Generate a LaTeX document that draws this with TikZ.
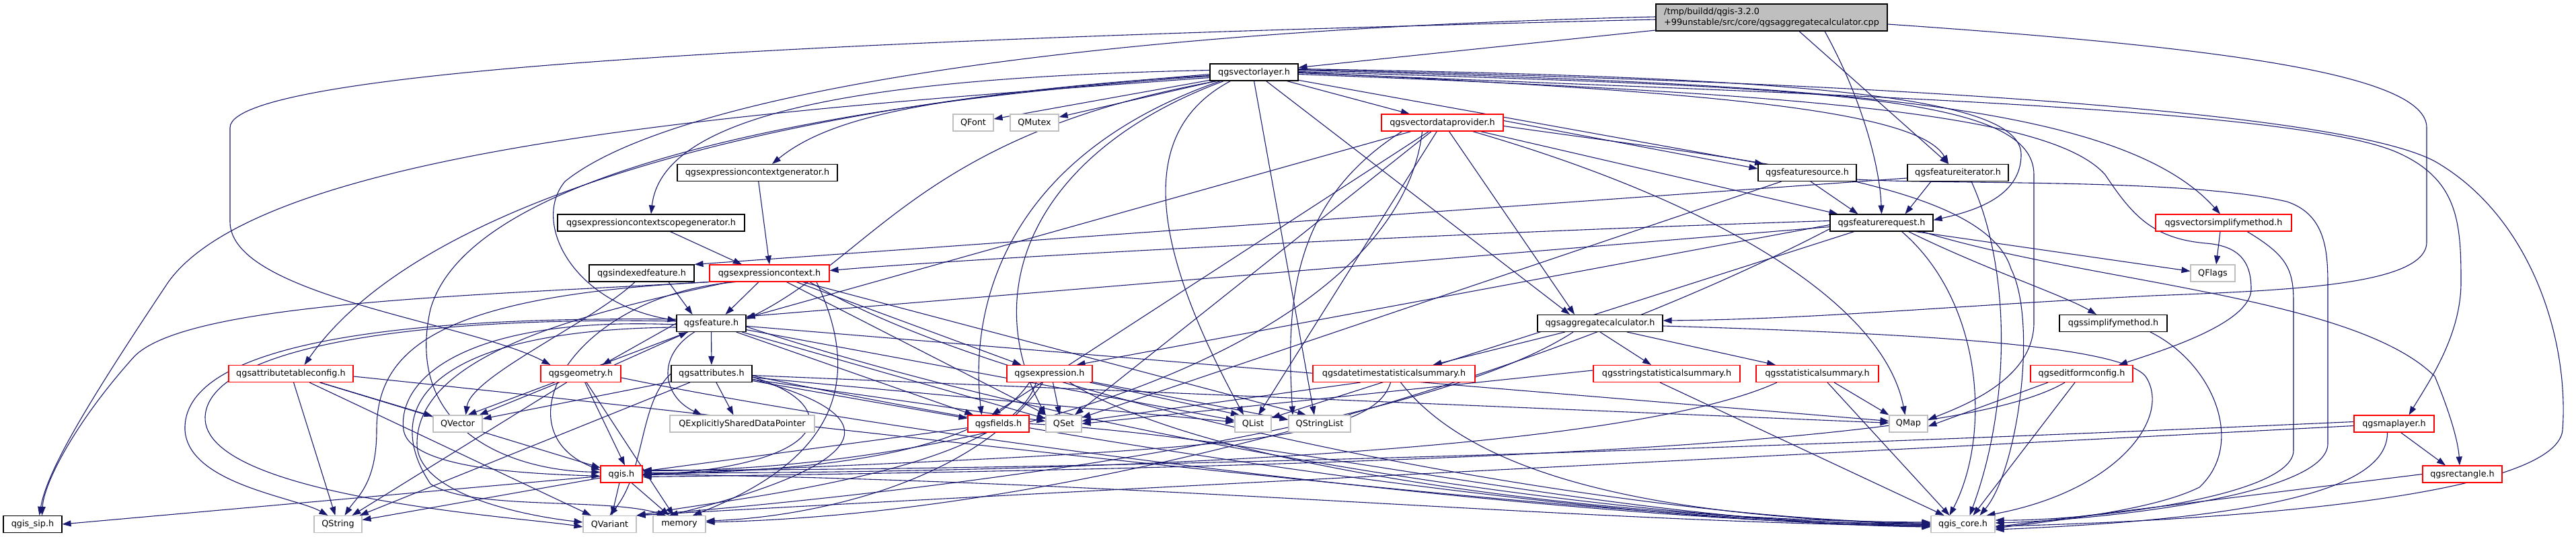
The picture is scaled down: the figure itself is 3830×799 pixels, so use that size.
\documentclass[tikz,border=0pt]{standalone}
\usepackage{fontspec}
\setmainfont{DejaVu Sans}
\usetikzlibrary{arrows.meta}
\definecolor{edgec}{HTML}{191970}
\definecolor{graybd}{HTML}{BFBFBF}
\definecolor{redbd}{HTML}{FF0000}
\pgfdeclarelayer{bg}
\pgfsetlayers{bg,main}
\begin{document}
\begin{tikzpicture}[x=1pt,y=-1pt,
  box/.style={font=\fontsize{12.8}{16}\selectfont, inner sep=0pt, minimum height=25pt, fill=white, line width=1.1pt},
  nb/.style={box, draw=black},
  nr/.style={box, draw=redbd},
  ng/.style={box, draw=graybd},
  e/.style={draw=edgec, line width=1.1pt, -{Triangle[length=13pt,width=9pt]}},
]
\useasboundingbox (0,0) rectangle (3830,799);

\node[nb, fill=graybd, minimum width=344pt, minimum height=40pt, align=left] (R) at (2634,26) {/tmp/buildd/qgis-3.2.0\\+99unstable/src/core/qgsaggregatecalculator.cpp};
\node[nb, minimum width=131pt] (VL) at (1864.5,107.5) {qgsvectorlayer.h};
\node[ng, minimum width=60pt] (QF) at (1447,182.5) {QFont};
\node[ng, minimum width=72pt] (QM) at (1538,182.5) {QMutex};
\node[nr, minimum width=181pt] (VDP) at (2144.5,182.5) {qgsvectordataprovider.h};
\node[nb, minimum width=238pt] (ECG) at (1126,257) {qgsexpressioncontextgenerator.h};
\node[nb, minimum width=146pt] (FS) at (2687,257) {qgsfeaturesource.h};
\node[nb, minimum width=150pt] (FI) at (2911,257) {qgsfeatureiterator.h};
\node[nb, minimum width=278pt] (ECSG) at (968,331.5) {qgsexpressioncontextscopegenerator.h};
\node[nb, minimum width=153pt] (FR) at (2797.5,331.5) {qgsfeaturerequest.h};
\node[nr, minimum width=202pt] (VSM) at (3306,331.5) {qgsvectorsimplifymethod.h};
\node[nb, minimum width=156pt] (IF) at (954,406.5) {qgsindexedfeature.h};
\node[nr, minimum width=178pt] (EC) at (1144,406.5) {qgsexpressioncontext.h};
\node[ng, minimum width=66pt] (QFl) at (3290,406.5) {QFlags};
\node[nb, minimum width=103pt] (FE) at (1057.5,481) {qgsfeature.h};
\node[nb, minimum width=186pt] (AGH) at (2379,481) {qgsaggregatecalculator.h};
\node[nb, minimum width=160pt] (SM) at (3142,481) {qgssimplifymethod.h};
\node[nr, minimum width=185pt] (ATC) at (432.5,556) {qgsattributetableconfig.h};
\node[nr, minimum width=119pt] (GEO) at (863.5,556) {qgsgeometry.h};
\node[nb, minimum width=120pt] (ATT) at (1058,556) {qgsattributes.h};
\node[nr, minimum width=127pt] (EXP) at (1560.5,556) {qgsexpression.h};
\node[nr, minimum width=241pt] (DTS) at (2072.5,556) {qgsdatetimestatisticalsummary.h};
\node[nr, minimum width=218pt] (SSS) at (2478,556) {qgsstringstatisticalsummary.h};
\node[nr, minimum width=182pt] (STS) at (2702,556) {qgsstatisticalsummary.h};
\node[nr, minimum width=152pt] (EFC) at (3095,556) {qgseditformconfig.h};
\node[ng, minimum width=73pt] (QVe) at (680.5,630.5) {QVector};
\node[ng, minimum width=215pt] (QESDP) at (1103.5,630.5) {QExplicitlySharedDataPointer};
\node[nr, minimum width=91pt] (FLD) at (1484.5,630.5) {qgsfields.h};
\node[ng, minimum width=53pt] (QSe) at (1581.5,630.5) {QSet};
\node[ng, minimum width=54pt] (QLi) at (1863,630.5) {QList};
\node[ng, minimum width=92pt] (QSL) at (1962,630.5) {QStringList};
\node[ng, minimum width=57pt] (QMa) at (2837.5,630.5) {QMap};
\node[nr, minimum width=119pt] (ML) at (3559.5,630.5) {qgsmaplayer.h};
\node[nr, minimum width=62pt] (QG) at (924,705.5) {qgis.h};
\node[nr, minimum width=118pt] (RECT) at (3661,705.5) {qgsrectangle.h};
\node[nb, minimum width=87pt] (SIP) at (48.5,780) {qgis\_sip.h};
\node[ng, minimum width=71pt] (QSt) at (502.5,780) {QString};
\node[ng, minimum width=79pt] (QVa) at (906.5,780) {QVariant};
\node[ng, minimum width=78pt] (MEM) at (1010,780) {memory};
\node[ng, minimum width=95pt] (CORE) at (2918.5,780) {qgis\_core.h};

\begin{pgfonlayer}{bg}
\fill[white] (0,0) rectangle (3830,799);
% root
\draw[e] ([yshift=-19pt]R.west) -- ([yshift=7pt]VL.east);
\draw[e] ([yshift=-3pt]R.west) .. controls (1400,55) and (342,95) .. (342,190) -- (342,330) .. controls (342,440) and (700,480) .. ([xshift=-45pt]GEO.north);
\draw[e] ([yshift=1pt]R.west) .. controls (1600,45) and (1000,140) .. (840,270) .. controls (790,330) and (850,450) .. ([yshift=4pt]FE.west);
\draw[e] ([xshift=41pt]R.south) -- ([xshift=-14pt]FI.north);
\draw[e] ([xshift=79pt]R.south) .. controls (2770,150) and (2795,250) .. (FR.north);
\draw[e] ([yshift=-10pt]R.east) .. controls (3300,70) and (3608,110) .. (3608,190) -- (3608,360) .. controls (3608,425) and (3400,432) .. (3200,440) .. controls (2900,455) and (2700,475) .. ([yshift=4pt]AGH.east);
% qgsvectorlayer.h
\draw[e] (VL) -- (QF);
\draw[e] (VL) -- (QM);
\draw[e] (VL) -- (VDP);
\draw[e] ([yshift=-3pt]VL.west) .. controls (1450,140) and (1250,160) .. ([xshift=22pt]ECG.north);
\draw[e] ([yshift=3pt]VL.west) .. controls (1300,115) and (985,165) .. (ECSG.north);
\draw[e] (VL) -- ([xshift=-65pt]FS.north);
\draw[e] (VL.east) .. controls (2500,135) and (2850,160) .. ([xshift=-14pt]FI.north);
\draw[e] ([yshift=5pt]VL.east) .. controls (2700,115) and (3005,145) .. (3005,230) .. controls (3005,295) and (2930,315) .. ([yshift=4pt]FR.east);
\draw[e] ([yshift=3pt]VL.east) .. controls (2700,125) and (3150,150) .. ([xshift=-5pt]VSM.north);
\draw[e] ([yshift=-3pt]VL.east) .. controls (2700,140) and (3050,170) .. (3130,260) .. controls (3170,320) and (3200,355) .. (3280,362) .. controls (3330,366) and (3347,390) .. (3347,430) .. controls (3347,480) and (3220,520) .. ([xshift=55pt]EFC.north);
\draw[e] ([yshift=1pt]VL.east) .. controls (2700,130) and (3024,140) .. (3024,260) -- (3024,480) .. controls (3024,560) and (2930,600) .. ([yshift=6pt]QMa.east);
\draw[e] ([yshift=-1pt]VL.east) .. controls (2700,140) and (3400,160) .. (3560,225) .. controls (3655,265) and (3659,330) .. (3659,420) .. controls (3659,500) and (3610,570) .. ([xshift=22pt]ML.north);
\draw[e] ([yshift=4pt]VL.east) .. controls (2700,120) and (3470,160) .. (3620,240) .. controls (3760,320) and (3820,500) .. (3810,640) .. controls (3800,740) and (3300,775) .. ([yshift=-3pt]CORE.east);
\draw[e] ([xshift=18pt]VL.south) -- ([xshift=-45pt]AGH.north);
\draw[e] (VL.south) -- ([xshift=-8pt]QSL.north);
\draw[e] ([xshift=-35pt]VL.south) .. controls (1680,200) and (1720,380) .. ([xshift=-14pt]QLi.north);
\draw[e] ([xshift=-50pt]VL.south) .. controls (1500,230) and (1440,450) .. ([xshift=-25pt]FLD.north);
\draw[e] ([xshift=-45pt]VL.south) .. controls (1550,220) and (1450,420) .. (QSe.north west);
\draw[e] ([xshift=-55pt]VL.south) .. controls (1370,200) and (1300,380) .. ([yshift=6pt]FE.east);
\draw[e] ([yshift=-5pt]VL.west) .. controls (1300,140) and (650,260) .. ([xshift=20pt]ATC.north);
\draw[e] ([yshift=-8pt]VL.west) .. controls (1200,160) and (400,210) .. (250,420) .. controls (130,600) and (70,700) .. ([xshift=10pt]SIP.north);
\draw[e] ([yshift=-6pt]VL.west) .. controls (1250,150) and (700,250) .. (640,460) .. controls (600,640) and (760,700) .. ([yshift=3pt]QG.west);
% qgsvectordataprovider.h
\draw[e] ([yshift=3pt]VDP.east) -- ([yshift=6pt]FS.west);
\draw[e] (VDP) -- ([xshift=-65pt]FR.north);
\draw[e] ([xshift=10pt]VDP.south) -- ([xshift=-38pt]AGH.north);
\draw[e] (VDP) -- ([yshift=8pt]FE.east);
\draw[e] (VDP) -- (QSe);
\draw[e] (VDP) -- ([xshift=8pt]QLi.north);
\draw[e] (VDP) .. controls (2550,300) and (2800,450) .. ([xshift=-5pt]QMa.north);
\draw[e] ([yshift=-5pt]VDP.east) .. controls (2600,240) and (2950,270) .. (2990,400) .. controls (3030,480) and (3000,700) .. ([xshift=25pt]CORE.north);
\draw[e] ([xshift=-30pt]VDP.south) .. controls (2080,500) and (1500,700) .. ([yshift=5pt]QG.east);
\draw[e] (VDP) -- ([xshift=-10pt]FLD.north);
\draw[e] ([xshift=-60pt]VDP.south) .. controls (1920,300) and (1912,450) .. ([xshift=-40pt]QSL.north);
% qgsfeaturesource.h
\draw[e] ([xshift=5pt]FS.south) -- ([xshift=-35pt]FR.north);
\draw[e] (FS) -- (QSe);
\draw[e] ([yshift=-10pt]FS.east) .. controls (2900,275) and (3250,265) .. (3400,300) .. controls (3461,320) and (3461,380) .. (3461,430) -- (3461,660) .. controls (3461,740) and (3100,775) .. ([yshift=2pt]CORE.east);
% qgsfeatureiterator.h
\draw[e] ([xshift=-40pt]FI.south) -- ([xshift=35pt]FR.north);
\draw[e] ([yshift=-8pt]FI.west) -- (IF.north east);
\draw[e] ([xshift=20pt]FI.south) .. controls (2990,400) and (2990,600) .. ([xshift=10pt]CORE.north);
% qgsfeaturerequest.h
\draw[e] ([xshift=50pt]FR.south) -- ([yshift=3pt]QFl.west);
\draw[e] ([xshift=60pt]FR.south) .. controls (3100,420) and (3500,440) .. (3620,560) .. controls (3645,620) and (3655,660) .. ([xshift=-4pt]RECT.north);
\draw[e] ([xshift=40pt]FR.south) .. controls (2950,400) and (3070,440) .. ([xshift=-25pt]SM.north);
\draw[e] ([xshift=30pt]FR.south) .. controls (2950,450) and (2960,650) .. ([xshift=-20pt]CORE.north);
\draw[e] ([yshift=-6pt]FR.west) -- ([yshift=10pt]FE.east);
\draw[e] ([yshift=-3pt]FR.west) -- ([xshift=40pt]EXP.north);
\draw[e] ([yshift=3pt]FR.west) .. controls (2200,345) and (1500,380) .. ([yshift=4pt]EC.east);
\draw[e] (FR) -- (QLi);
\draw[e] ([yshift=-9pt]FR.west) .. controls (2300,560) and (1600,765) .. ([yshift=3pt]MEM.east);
% qgsvectorsimplifymethod.h
\draw[e] ([xshift=-5pt]VSM.south) -- ([xshift=5pt]QFl.north);
\draw[e] ([xshift=35pt]VSM.south) .. controls (3400,380) and (3410,400) .. (3410,450) -- (3410,670) .. controls (3410,740) and (3100,775) .. ([yshift=6pt]CORE.east);
% expression context generators
\draw[e] (ECG) -- (EC.north);
\draw[e] (ECSG) -- ([xshift=-41pt]EC.north);
% qgsindexedfeature.h
\draw[e] ([xshift=40pt]IF.south) -- ([xshift=-28pt]FE.north);
\draw[e] ([xshift=-10pt]IF.south) .. controls (880,480) and (700,560) .. ([xshift=12pt]QVe.north);
% qgsexpressioncontext.h
\draw[e] ([xshift=-16pt]EC.south) -- ([xshift=21pt]FE.north);
\draw[e] ([xshift=40pt]EC.south) -- ([xshift=-42pt]EXP.north);
\draw[e] (EC) -- (QSe);
\draw[e] (EC) -- ([xshift=-20pt]QSL.north);
\draw[e] ([xshift=60pt]EC.south) .. controls (1500,600) and (2400,775) .. ([yshift=2pt]CORE.west);
\draw[e] (EC.south west) .. controls (650,440) and (560,520) .. (560,640) .. controls (560,720) and (530,740) .. ([xshift=10pt]QSt.north);
\draw[e] ([xshift=-60pt]EC.south) .. controls (900,460) and (620,520) .. (620,660) .. controls (620,740) and (800,770) .. ([yshift=3pt]QVa.west);
\draw[e] ([xshift=70pt]EC.south) .. controls (1300,600) and (1200,700) .. ([xshift=20pt]MEM.north);
\draw[e] ([xshift=-50pt]EC.south) .. controls (850,440) and (740,640) .. ([yshift=6pt]QG.west);
\draw[e] (EC.south west) .. controls (700,440) and (280,450) .. (200,530) .. controls (110,630) and (65,720) .. ([xshift=14pt]SIP.north);
% qgsfeature.h
\draw[e] (FE) -- (ATT);
\draw[e] (FE.west) -- ([xshift=32pt]GEO.north);
\draw[e] ([xshift=50pt]GEO.north) -- ([xshift=-35pt]FE.south);
\draw[e] (FE) -- ([xshift=15pt]QVe.north);
\draw[e] ([xshift=-25pt]FE.south) .. controls (975,530) and (985,590) .. ([xshift=-60pt]QESDP.north);
\draw[e] (FE) -- (FLD);
\draw[e] (FE) -- (QSe);
\draw[e] (FE) -- (QLi);
\draw[e] (FE) -- ([yshift=4pt]QMa.west);
\draw[e] ([yshift=-5pt]FE.east) .. controls (1600,650) and (2400,780) .. (CORE.west);
\draw[e] ([yshift=-2pt]FE.west) .. controls (700,470) and (590,560) .. (600,640) .. controls (610,700) and (800,705) .. ([yshift=-3pt]QG.west);
\draw[e] ([yshift=3pt]FE.west) .. controls (600,470) and (310,520) .. (305,620) .. controls (300,740) and (780,770) .. ([yshift=-4pt]QVa.west);
\draw[e] ([yshift=-6pt]FE.west) .. controls (650,490) and (560,600) .. (640,720) .. controls (700,760) and (900,740) .. ([xshift=-20pt]MEM.north);
\draw[e] ([yshift=6pt]FE.west) .. controls (550,470) and (270,520) .. (275,640) .. controls (280,720) and (440,740) .. ([xshift=-15pt]QSt.north);
% qgsgeometry.h
\draw[e] (GEO) -- (QVe);
\draw[e] (GEO) -- (QSt);
\draw[e] (GEO) -- ([xshift=5pt]QG.north);
\draw[e] (GEO) -- (MEM);
\draw[e] ([yshift=-6pt]GEO.east) .. controls (1400,660) and (2400,782) .. ([yshift=-1pt]CORE.west);
% qgsattributes.h
\draw[e] (ATT) -- ([xshift=-13pt]QESDP.north);
\draw[e] (ATT) -- (FLD);
\draw[e] (ATT) -- (QSe);
\draw[e] (ATT) -- (QLi);
\draw[e] (ATT) -- (QMa);
\draw[e] ([yshift=-3pt]ATT.east) .. controls (1600,660) and (2400,782) .. ([yshift=-2pt]CORE.west);
\draw[e] ([yshift=-5pt]ATT.east) .. controls (1250,600) and (1250,690) .. ([yshift=-2pt]QG.east);
\draw[e] ([yshift=-8pt]ATT.east) .. controls (1330,620) and (1300,690) .. ([xshift=-15pt]MEM.north);
\draw[e] (ATT.west) .. controls (950,600) and (960,700) .. (QVa.north);
\draw[e] (ATT) -- (QSt);
\draw[e] (ATT) -- (QVe);
% qgsattributetableconfig.h
\draw[e] (ATC) -- (QVe);
\draw[e] (ATC) -- (QSt);
\draw[e] (ATC) -- (QVa);
\draw[e] (ATC) -- (QG);
\draw[e] ([yshift=-4pt]ATC.east) .. controls (1300,640) and (2400,782) .. ([yshift=1pt]CORE.west);
% qgsexpression.h
\draw[e] ([xshift=5pt]EXP.south) -- ([xshift=-6pt]QSe.north);
\draw[e] (EXP) -- ([xshift=-20pt]QLi.north);
\draw[e] (EXP) -- ([yshift=6pt]QSL.west);
\draw[e] ([xshift=-20pt]EXP.south) .. controls (1500,700) and (1100,740) .. (QVa.north east);
\draw[e] ([xshift=-30pt]EXP.south) .. controls (1450,690) and (1150,700) .. ([yshift=-1pt]QG.east);
\draw[e] ([xshift=30pt]EXP.south) .. controls (1800,700) and (2400,775) .. ([yshift=3pt]CORE.west);
\draw[e] ([xshift=-10pt]EXP.south) .. controls (1450,720) and (1200,770) .. ([yshift=5pt]MEM.east);
% qgsaggregatecalculator.h
\draw[e] (AGH) -- ([xshift=58pt]DTS.north);
\draw[e] (AGH.south) -- ([xshift=-23pt]SSS.north);
\draw[e] ([xshift=40pt]AGH.south) -- ([xshift=-62pt]STS.north);
\draw[e] ([xshift=-40pt]AGH.south) .. controls (2100,650) and (1300,740) .. (QVa.north east);
\draw[e] ([yshift=-4pt]AGH.east) .. controls (2800,495) and (3150,510) .. (3190,560) .. controls (3230,620) and (3150,730) .. ([xshift=35pt]CORE.north);
% statistical summaries
\draw[e] ([xshift=-50pt]DTS.south) -- ([yshift=4pt]QSe.east);
\draw[e] ([xshift=-5pt]DTS.south) .. controls (2040,660) and (1800,670) .. (QG.east);
\draw[e] ([xshift=10pt]DTS.south) .. controls (2200,720) and (2500,770) .. (CORE.west);
\draw[e] ([yshift=5pt]SSS.west) -- (QSe.east);
\draw[e] ([xshift=-10pt]SSS.south) -- (CORE);
\draw[e] ([xshift=25pt]STS.south) -- (QMa.north west);
\draw[e] ([xshift=15pt]STS.south) -- ([xshift=-20pt]CORE.north);
\draw[e] ([xshift=-60pt]STS.south) .. controls (2400,680) and (1500,705) .. ([yshift=2pt]QG.east);
% qgseditformconfig.h
\draw[e] ([xshift=-50pt]EFC.south) -- ([yshift=-4pt]QMa.east);
\draw[e] ([xshift=-25pt]EFC.south) .. controls (2950,640) and (2500,690) .. ([yshift=-4pt]QG.east);
\draw[e] ([xshift=-10pt]EFC.south) -- ([xshift=15pt]CORE.north);
% qgssimplifymethod.h
\draw[e] ([xshift=55pt]SM.south) .. controls (3290,540) and (3340,660) .. (3270,725) .. controls (3200,760) and (3050,775) .. ([yshift=-6pt]CORE.east);
% qgsmaplayer.h
\draw[e] ([xshift=10pt]ML.south) -- ([xshift=-25pt]RECT.north);
\draw[e] ([xshift=-10pt]ML.south) .. controls (3550,720) and (3400,770) .. ([yshift=-8pt]CORE.east);
\draw[e] ([yshift=3pt]ML.west) .. controls (3000,650) and (1800,700) .. ([yshift=6pt]QG.east);
\draw[e] ([yshift=-3pt]ML.west) .. controls (3000,660) and (1600,730) .. (QVa.north east);
% qgsrectangle.h
\draw[e] (RECT.west) -- ([yshift=-4pt]CORE.east);
% qgis.h
\draw[e] ([yshift=-3pt]QG.west) -- (SIP.east);
\draw[e] (QG) -- (QSt);
\draw[e] (QG) -- (QVa);
\draw[e] (QG) -- (MEM);
\draw[e] (QG.east) .. controls (1700,715) and (2300,775) .. ([yshift=-3pt]CORE.west);
% qgsfields.h
\draw[e] (FLD) -- (QG);
\draw[e] (FLD.east) .. controls (1900,650) and (2400,778) .. ([yshift=-4pt]CORE.west);
\end{pgfonlayer}
\end{tikzpicture}
\end{document}
